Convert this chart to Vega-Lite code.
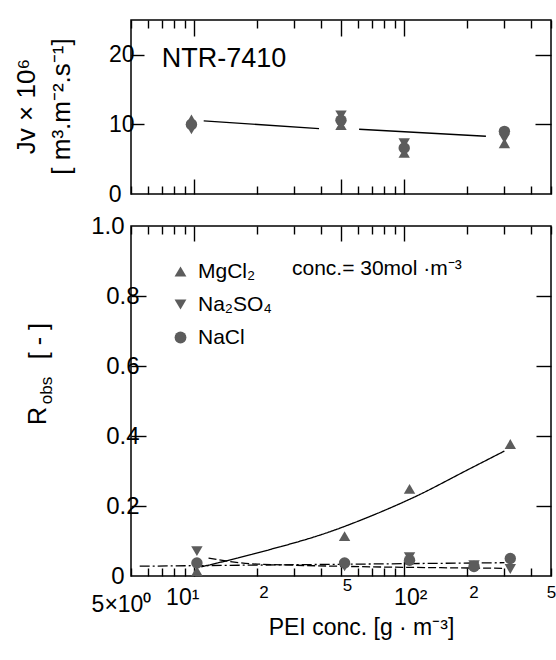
{
  "$schema": "https://vega.github.io/schema/vega-lite/v6.json",
  "padding": {"left": 12, "top": 18, "right": 2, "bottom": 2},
  "spacing": 6,
  "config": {
    "font": "Liberation Sans",
    "view": {"stroke": "black", "strokeWidth": 1.5},
    "axis": {"labelColor": "black", "titleColor": "black", "tickColor": "black", "tickWidth": 1.4, "grid": false, "domain": false, "labelFont": "Liberation Sans", "titleFont": "Liberation Sans", "titleFontWeight": "normal"}
  },
  "resolve": {"scale": {"shape": "independent", "strokeDash": "independent"}, "legend": {"shape": "independent", "strokeDash": "independent"}},
  "datasets": {
    "jvpts": [
      {"conc": 9.7, "salt": "MgCl₂", "jv": 10.7},
      {"conc": 9.7, "salt": "Na₂SO₄", "jv": 9.3},
      {"conc": 9.7, "salt": "NaCl", "jv": 10.0},
      {"conc": 50, "salt": "MgCl₂", "jv": 9.9},
      {"conc": 50, "salt": "Na₂SO₄", "jv": 11.3},
      {"conc": 50, "salt": "NaCl", "jv": 10.6},
      {"conc": 100, "salt": "MgCl₂", "jv": 5.9},
      {"conc": 100, "salt": "Na₂SO₄", "jv": 7.3},
      {"conc": 100, "salt": "NaCl", "jv": 6.6},
      {"conc": 300, "salt": "MgCl₂", "jv": 7.3},
      {"conc": 300, "salt": "Na₂SO₄", "jv": 8.0},
      {"conc": 300, "salt": "NaCl", "jv": 9.0}
    ],
    "jvfit": [
      {"seg": "a", "conc": 11.1, "jv": 10.5},
      {"seg": "a", "conc": 39.3, "jv": 9.4},
      {"seg": "b", "conc": 61, "jv": 9.3},
      {"seg": "b", "conc": 245, "jv": 8.3}
    ],
    "rpts": [
      {"conc": 10.3, "salt": "MgCl₂", "r": 0.014},
      {"conc": 10.3, "salt": "Na₂SO₄", "r": 0.071},
      {"conc": 10.3, "salt": "NaCl", "r": 0.037},
      {"conc": 52, "salt": "MgCl₂", "r": 0.114},
      {"conc": 52, "salt": "Na₂SO₄", "r": 0.028},
      {"conc": 52, "salt": "NaCl", "r": 0.037},
      {"conc": 106, "salt": "MgCl₂", "r": 0.249},
      {"conc": 106, "salt": "Na₂SO₄", "r": 0.054},
      {"conc": 106, "salt": "NaCl", "r": 0.045},
      {"conc": 215, "salt": "Na₂SO₄", "r": 0.031},
      {"conc": 215, "salt": "NaCl", "r": 0.027},
      {"conc": 320, "salt": "MgCl₂", "r": 0.377},
      {"conc": 320, "salt": "Na₂SO₄", "r": 0.02},
      {"conc": 320, "salt": "NaCl", "r": 0.05}
    ],
    "rfit": [
      {"fit": "MgCl2 fit", "conc": 10.8, "r": 0.026},
      {"fit": "MgCl2 fit", "conc": 20, "r": 0.066},
      {"fit": "MgCl2 fit", "conc": 46, "r": 0.13},
      {"fit": "MgCl2 fit", "conc": 66, "r": 0.166},
      {"fit": "MgCl2 fit", "conc": 115, "r": 0.229},
      {"fit": "MgCl2 fit", "conc": 200, "r": 0.303},
      {"fit": "MgCl2 fit", "conc": 300, "r": 0.357},
      {"fit": "Na2SO4 fit", "conc": 11.7, "r": 0.051},
      {"fit": "Na2SO4 fit", "conc": 20, "r": 0.034},
      {"fit": "Na2SO4 fit", "conc": 300, "r": 0.022},
      {"fit": "NaCl fit", "conc": 5.5, "r": 0.028},
      {"fit": "NaCl fit", "conc": 300, "r": 0.038}
    ],
    "notes": [{"label": "NTR-7410"}],
    "conc_note": [{"label": "conc.= 30mol ·m⁻³"}],
    "rtitle": [{"label": "R"}],
    "rsub": [{"label": "obs"}],
    "runit": [{"label": "[ - ]"}]
  },
  "vconcat": [
    {
      "width": 420,
      "height": 174,
      "resolve": {"axis": {"x": "independent", "y": "independent"}},
      "layer": [
        {
          "data": {"name": "jvfit"},
          "mark": {"type": "line", "color": "black", "strokeWidth": 1.3},
          "encoding": {
            "x": {"field": "conc", "type": "quantitative", "scale": {"type": "log", "domain": [5, 500], "nice": false},
              "axis": {"orient": "bottom", "values": [5, 6, 7, 8, 9, 10, 20, 30, 40, 50, 60, 70, 80, 90, 100, 200, 300, 400, 500], "labels": false, "title": null,
                "tickSize": {"condition": {"test": "datum.value == 10 || datum.value == 50 || datum.value == 100", "value": -15}, "value": -8}}},
            "y": {"field": "jv", "type": "quantitative", "scale": {"domain": [0, 25], "nice": false},
              "axis": {"orient": "left", "values": [0, 10, 20], "labelFontSize": 23, "labelPadding": 10,
                "tickSize": {"condition": {"test": "datum.value == 0", "value": 0}, "value": -13},
                "title": ["Jv × 10⁶", "[ m³.m⁻².s⁻¹]"], "titleFontSize": 26, "titleLineHeight": 35,
                "titleX": -92, "titleY": 86, "titleAngle": 270, "titleAlign": "center", "titleBaseline": "bottom"}},
            "detail": {"field": "seg"}
          }
        },
        {
          "data": {"name": "jvpts"},
          "mark": {"type": "point", "filled": true, "color": "#5c5c5c", "opacity": 1, "size": 130},
          "encoding": {
            "x": {"field": "conc", "type": "quantitative",
              "axis": {"orient": "top", "values": [5, 6, 7, 8, 9, 10, 20, 30, 40, 50, 60, 70, 80, 90, 100, 200, 300, 400, 500], "labels": false, "title": null,
                "tickSize": {"condition": {"test": "datum.value == 10 || datum.value == 50 || datum.value == 100", "value": -16}, "value": -8}}},
            "y": {"field": "jv", "type": "quantitative",
              "axis": {"orient": "right", "values": [10, 20], "labels": false, "title": null, "tickSize": -16}},
            "shape": {"field": "salt", "type": "nominal", "scale": {"domain": ["MgCl₂", "Na₂SO₄", "NaCl"], "range": ["triangle-up", "triangle-down", "circle"]}, "legend": null}
          }
        },
        {
          "data": {"name": "notes"},
          "mark": {"type": "text", "align": "left", "baseline": "middle", "fontSize": 27, "color": "black"},
          "encoding": {
            "x": {"datum": 7.0, "type": "quantitative", "axis": null},
            "y": {"datum": 19.4, "type": "quantitative", "axis": null},
            "text": {"field": "label"}
          }
        }
      ]
    },
    {
      "width": 420,
      "height": 350,
      "resolve": {"axis": {"x": "independent", "y": "independent"}},
      "layer": [
        {
          "data": {"name": "rfit"},
          "mark": {"type": "line", "color": "black", "strokeWidth": 1.3, "interpolate": "monotone"},
          "encoding": {
            "x": {"field": "conc", "type": "quantitative", "scale": {"type": "log", "domain": [5, 500], "nice": false},
              "axis": {"orient": "bottom", "values": [5, 6, 7, 8, 9, 10, 20, 30, 40, 50, 60, 70, 80, 90, 100, 200, 300, 400, 500],
                "labelExpr": "datum.value == 5 ? '5×10⁰' : datum.value == 10 ? '10¹' : datum.value == 100 ? '10²' : (datum.value == 20 || datum.value == 200) ? '2' : (datum.value == 50 || datum.value == 500) ? '5' : ''",
                "labelFontSize": {"condition": {"test": "datum.value == 5 || datum.value == 10 || datum.value == 100", "value": 23}, "value": 17},
                "labelPadding": {"condition": {"test": "datum.value == 5 || datum.value == 10 || datum.value == 100", "value": 25}, "value": 16},
                "labelOffset": {"condition": [{"test": "datum.value == 5", "value": -10}, {"test": "datum.value == 10", "value": -12}, {"test": "datum.value == 500", "value": 0}], "value": 6},
                "labelOverlap": false, "labelBound": false, "labelFlush": false,
                "tickSize": {"condition": {"test": "datum.value == 10 || datum.value == 50 || datum.value == 100", "value": -15}, "value": -8},
                "title": "PEI conc. [g · m⁻³]", "titleFontSize": 23, "titleX": 230, "titleY": 58, "titleAlign": "center", "titleBaseline": "alphabetic"}},
            "y": {"field": "r", "type": "quantitative", "scale": {"domain": [0, 1], "nice": false},
              "axis": {"orient": "left", "values": [0, 0.2, 0.4, 0.6, 0.8, 1.0], "labelFontSize": 24, "labelPadding": 7,
                "labelExpr": "datum.value == 0 ? '0' : format(datum.value, '.1f')", "labelBound": false, "labelFlush": false, "labelOverlap": false,
                "tickSize": {"condition": {"test": "datum.value == 0 || datum.value == 1", "value": 0}, "value": -15},
                "title": null}},
            "strokeDash": {"field": "fit", "type": "nominal", "scale": {"domain": ["MgCl2 fit", "Na2SO4 fit", "NaCl fit"], "range": [[1, 0], [8, 3], [10, 3, 2, 3]]}, "legend": null}
          }
        },
        {
          "data": {"name": "rpts"},
          "mark": {"type": "point", "filled": true, "color": "#5c5c5c", "opacity": 1, "size": 130},
          "encoding": {
            "x": {"field": "conc", "type": "quantitative",
              "axis": {"orient": "top", "values": [5, 6, 7, 8, 9, 10, 20, 30, 40, 50, 60, 70, 80, 90, 100, 200, 300, 400, 500], "labels": false, "title": null,
                "tickSize": {"condition": {"test": "datum.value == 10 || datum.value == 50 || datum.value == 100", "value": -15}, "value": -8}}},
            "y": {"field": "r", "type": "quantitative",
              "axis": {"orient": "right", "values": [0.2, 0.4, 0.6, 0.8], "labels": false, "title": null, "tickSize": -15}},
            "shape": {"field": "salt", "type": "nominal", "scale": {"domain": ["MgCl₂", "Na₂SO₄", "NaCl"], "range": ["triangle-up", "triangle-down", "circle"]},
              "legend": {"orient": "none", "legendX": 39, "legendY": 35, "title": null, "labelFontSize": 21, "labelColor": "black", "labelFont": "Liberation Sans", "symbolSize": 140, "symbolFillColor": "#5c5c5c", "symbolStrokeColor": "#5c5c5c", "rowPadding": 11, "labelOffset": 7}}
          }
        },
        {
          "data": {"name": "conc_note"},
          "mark": {"type": "text", "align": "left", "baseline": "middle", "fontSize": 21, "color": "black"},
          "encoding": {
            "x": {"datum": 29.2, "type": "quantitative", "axis": null},
            "y": {"datum": 0.877, "type": "quantitative", "axis": null},
            "text": {"field": "label"}
          }
        },
        {
          "data": {"name": "rtitle"},
          "mark": {"type": "text", "align": "center", "baseline": "middle", "fontSize": 25, "angle": 270, "color": "black"},
          "encoding": {
            "x": {"datum": 1.8, "type": "quantitative", "axis": null},
            "y": {"datum": 0.457, "type": "quantitative", "axis": null},
            "text": {"field": "label"}
          }
        },
        {
          "data": {"name": "rsub"},
          "mark": {"type": "text", "align": "center", "baseline": "middle", "fontSize": 17, "angle": 270, "color": "black"},
          "encoding": {
            "x": {"datum": 2.0, "type": "quantitative", "axis": null},
            "y": {"datum": 0.53, "type": "quantitative", "axis": null},
            "text": {"field": "label"}
          }
        },
        {
          "data": {"name": "runit"},
          "mark": {"type": "text", "align": "center", "baseline": "middle", "fontSize": 25, "angle": 270, "color": "black"},
          "encoding": {
            "x": {"datum": 1.82, "type": "quantitative", "axis": null},
            "y": {"datum": 0.671, "type": "quantitative", "axis": null},
            "text": {"field": "label"}
          }
        }
      ]
    }
  ]
}
